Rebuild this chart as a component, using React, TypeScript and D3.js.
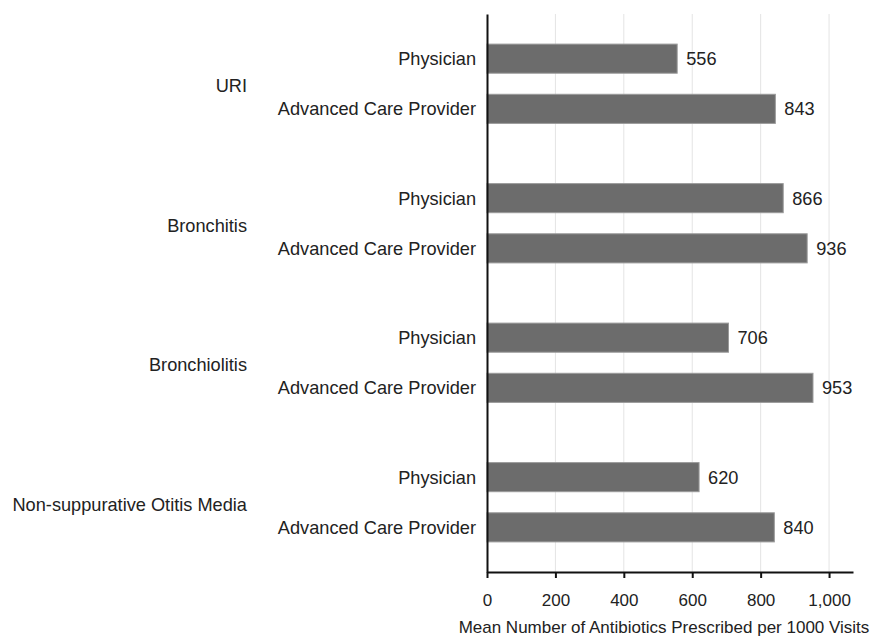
import React, { useEffect, useRef } from 'react'
import * as d3 from 'd3'

const conditions = ['URI', 'Bronchitis', 'Bronchiolitis', 'Non-suppurative Otitis Media']
const providers = ['Physician', 'Advanced Care Provider']
const physicianValues = [556, 866, 706, 620]
const acpValues = [843, 936, 953, 840]
const xTicks = [0, 200, 400, 600, 800, 1000]
const xTitle = 'Mean Number of Antibiotics Prescribed per 1000 Visits'

const FONT = '"Liberation Sans", Arial, Helvetica, sans-serif'
const LABEL_SIZE = 18.2

const App: React.FC = () => {
  const svgRef = useRef<SVGSVGElement | null>(null)

  useEffect(() => {
    if (!svgRef.current) return
    const svg = d3.select(svgRef.current)
    svg.selectAll('*').remove()

    const width = 870
    const height = 638
    const margin = { top: 14, right: 17, bottom: 66, left: 487 }

    svg
      .attr('width', width)
      .attr('height', height)
      .attr('viewBox', [0, 0, width, height])
      .style('font-family', FONT)

    const rows = conditions.flatMap((c, i) => [
      { condition: c, provider: providers[0], value: physicianValues[i] },
      { condition: c, provider: providers[1], value: acpValues[i] },
    ])

    const x = d3
      .scaleLinear()
      .domain([0, 1070])
      .range([margin.left, width - margin.right])

    const y0 = d3
      .scaleBand()
      .domain(conditions)
      .range([margin.top, height - margin.bottom])
      .padding(0)

    const y1 = d3
      .scaleBand()
      .domain(providers)
      .range([0, y0.bandwidth()])
      .paddingInner(0.42)
      .paddingOuter(0.6)

    const barY = (d: { condition: string; provider: string }) =>
      (y0(d.condition) ?? 0) + (y1(d.provider) ?? 0)

    // gridlines
    svg
      .append('g')
      .selectAll('line')
      .data(xTicks.filter(t => t > 0))
      .join('line')
      .attr('x1', d => x(d))
      .attr('x2', d => x(d))
      .attr('y1', margin.top)
      .attr('y2', height - margin.bottom)
      .attr('stroke', '#e4e4e4')
      .attr('stroke-width', 1)

    // bars
    svg
      .append('g')
      .selectAll('rect')
      .data(rows)
      .join('rect')
      .attr('x', x(0))
      .attr('y', d => barY(d))
      .attr('width', d => x(d.value) - x(0))
      .attr('height', y1.bandwidth())
      .attr('fill', '#6c6c6c')
      .attr('stroke', '#9a9a9a')
      .attr('stroke-width', 1)

    // value labels
    svg
      .append('g')
      .selectAll('text')
      .data(rows)
      .join('text')
      .attr('x', d => x(d.value) + 9)
      .attr('y', d => barY(d) + y1.bandwidth() / 2)
      .attr('dy', '0.35em')
      .attr('font-size', LABEL_SIZE)
      .attr('fill', '#222')
      .text(d => d.value)

    // provider labels
    svg
      .append('g')
      .attr('text-anchor', 'end')
      .selectAll('text')
      .data(rows)
      .join('text')
      .attr('x', margin.left - 11)
      .attr('y', d => barY(d) + y1.bandwidth() / 2)
      .attr('dy', '0.35em')
      .attr('font-size', LABEL_SIZE)
      .attr('fill', '#222')
      .text(d => d.provider)

    // condition labels
    svg
      .append('g')
      .attr('text-anchor', 'end')
      .selectAll('text')
      .data(conditions)
      .join('text')
      .attr('x', 247)
      .attr('y', d => (y0(d) ?? 0) + y0.bandwidth() / 2 + 2)
      .attr('dy', '0.35em')
      .attr('font-size', LABEL_SIZE)
      .attr('fill', '#222')
      .text(d => d)

    // left axis line
    svg
      .append('g')
      .attr('transform', `translate(${margin.left},0)`)
      .call(d3.axisLeft(y0).tickValues([]).tickSizeOuter(0))
      .call(g => g.select('.domain').attr('stroke', '#111').attr('stroke-width', 2))

    // bottom axis
    svg
      .append('g')
      .attr('transform', `translate(0,${height - margin.bottom})`)
      .call(
        d3
          .axisBottom(x)
          .tickValues(xTicks)
          .tickFormat(d3.format(','))
          .tickSize(6)
          .tickSizeOuter(0)
          .tickPadding(16),
      )
      .call(g => g.select('.domain').attr('stroke', '#111').attr('stroke-width', 2))
      .call(g => g.selectAll('.tick line').attr('stroke', '#111').attr('stroke-width', 2))
      .call(g =>
        g
          .selectAll('.tick text')
          .attr('font-family', FONT)
          .attr('font-size', 17)
          .attr('fill', '#222'),
      )

    // x title
    svg
      .append('text')
      .attr('x', 664)
      .attr('y', 633)
      .attr('text-anchor', 'middle')
      .attr('font-size', 17)
      .attr('fill', '#222')
      .text(xTitle)
  }, [])

  return (
    <div style={{ position: 'absolute', left: 0, top: 0 }}>
      <svg ref={svgRef}></svg>
    </div>
  )
}

export default App
